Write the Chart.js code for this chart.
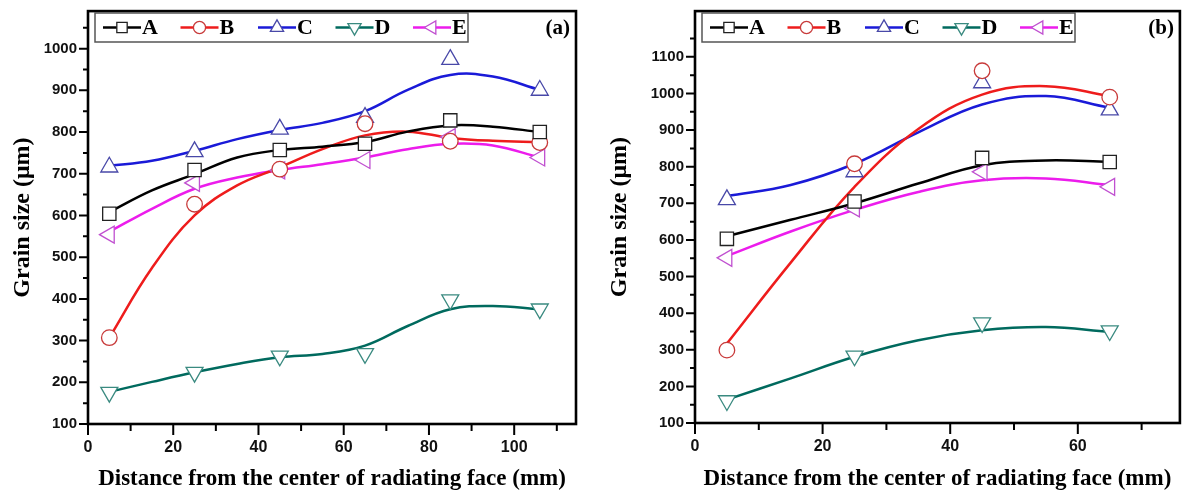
<!DOCTYPE html>
<html>
<head>
<meta charset="utf-8">
<script src="https://cdn.jsdelivr.net/npm/chart.js@4.4.1/dist/chart.umd.min.js"></script>
<style>
  body { margin: 0; background: #fff; width: 1191px; height: 493px; overflow: hidden; position: relative; }
  canvas { position: absolute; top: 0; }
  #chartA { left: 0; }
  #chartB { left: 590px; }
</style>
</head>
<body>
<canvas id="chartA" width="590" height="493"></canvas>
<canvas id="chartB" width="601" height="493"></canvas>
<script>
// series names (legend)
const seriesNames = ['A', 'B', 'C', 'D', 'E'];

// ---- panel (a): measured points ----
const panelA_x = [5, 25, 45, 65, 85, 106];
const panelA_A = [604, 709, 757, 772, 828, 800];
const panelA_B = [307, 627, 711, 820, 778, 775];
const panelA_C = [716, 753, 807, 835, 974, 900];
const panelA_D = [176, 224, 263, 269, 398, 376];
const panelA_E = [554, 678, 708, 733, 788, 739];
// panel (a): fitted curves
const panelA_fitX = [5, 15, 25, 35, 45, 55, 65, 75, 85, 95, 106];
const panelA_fitA = [608, 660, 699, 739, 757, 765, 776, 801, 816, 813, 800];
const panelA_fitB = [307, 474, 600, 672, 715, 759, 792, 801, 786, 779, 776];
const panelA_fitC = [719, 731, 755, 783, 805, 822, 850, 901, 937, 933, 901];
const panelA_fitD = [177, 201, 224, 244, 260, 268, 288, 335, 375, 383, 375];
const panelA_fitE = [561, 616, 664, 691, 709, 723, 739, 759, 772, 768, 739];
// panel (a): ticks
const panelA_xMajor = [0, 20, 40, 60, 80, 100];
const panelA_xMinor = [10, 30, 50, 70, 90, 110];
const panelA_yMajor = [100, 200, 300, 400, 500, 600, 700, 800, 900, 1000];
const panelA_yMinor = [150, 250, 350, 450, 550, 650, 750, 850, 950, 1050];

// ---- panel (b): measured points ----
const panelB_x = [5, 25, 45, 65];
const panelB_A = [603, 705, 824, 813];
const panelB_B = [299, 808, 1062, 990];
const panelB_C = [710, 786, 1029, 955];
const panelB_D = [161, 283, 374, 352];
const panelB_E = [551, 686, 786, 745];
// panel (b): fitted curves
const panelB_fitX = [5, 15, 25, 35, 45, 55, 65];
const panelB_fitA = [610, 655, 700, 754, 804, 817, 813];
const panelB_fitB = [317, 538, 745, 903, 997, 1020, 993];
const panelB_fitC = [720, 750, 808, 894, 970, 993, 961];
const panelB_fitD = [164, 222, 281, 326, 353, 362, 349];
const panelB_fitE = [556, 623, 682, 731, 763, 768, 750];
// panel (b): ticks
const panelB_xMajor = [0, 20, 40, 60];
const panelB_xMinor = [10, 30, 50, 70];
const panelB_yMajor = [100, 200, 300, 400, 500, 600, 700, 800, 900, 1000, 1100];
const panelB_yMinor = [150, 250, 350, 450, 550, 650, 750, 850, 950, 1050, 1150];

// styles
const lineColors = ['#000000', '#ee1c1c', '#1a1ad8', '#006a5e', '#ec1cec'];
const markColors = ['#222222', '#c83a3a', '#4848a8', '#3a8a80', '#c050d0'];
const markStyles = ['rect', 'circle', 'triangle', 'triangle', 'triangle'];
const markRot = [0, 0, 0, 180, -90];
const markRadius = [9.4, 7.8, 9.8, 9.8, 9.8];

const serif = '"Liberation Serif", "Times New Roman", serif';
const sans = '"Liberation Sans", Arial, sans-serif';

function buildDatasets(xs, marks, fitX, fits) {
    const sets = [];
    fits.forEach((f, i) => {
        sets.push({
            type: 'line',
            data: fitX.map((x, k) => ({x: x, y: f[k]})),
            borderColor: lineColors[i],
            borderWidth: 2.5,
            pointRadius: 0,
            tension: 0.4,
            fill: false,
            order: 1
        });
    });
    marks.forEach((m, i) => {
        sets.push({
            type: 'line',
            data: xs.map((x, k) => ({x: x, y: m[k]})),
            showLine: false,
            pointStyle: markStyles[i],
            rotation: markRot[i],
            pointRadius: markRadius[i],
            pointBorderWidth: 1.3,
            pointBorderColor: markColors[i],
            pointBackgroundColor: '#ffffff',
            order: 0
        });
    });
    return sets;
}

// frame, ticks, legend box and panel tag
const decoPlugin = {
    id: 'deco',
    afterDraw(chart, args, p) {
        const {ctx, chartArea: ca, scales: {x, y}} = chart;
        ctx.save();
        ctx.strokeStyle = '#000';
        ctx.lineWidth = 2;
        ctx.beginPath();
        p.xMajor.forEach(v => { const px = x.getPixelForValue(v); ctx.moveTo(px, ca.bottom); ctx.lineTo(px, ca.bottom + 11); });
        p.xMinor.forEach(v => { const px = x.getPixelForValue(v); ctx.moveTo(px, ca.bottom); ctx.lineTo(px, ca.bottom + 7); });
        p.yMajor.forEach(v => { const py = y.getPixelForValue(v); ctx.moveTo(ca.left, py); ctx.lineTo(ca.left - 9, py); });
        p.yMinor.forEach(v => { const py = y.getPixelForValue(v); ctx.moveTo(ca.left, py); ctx.lineTo(ca.left - 5, py); });
        ctx.stroke();
        ctx.lineWidth = 2.6;
        ctx.strokeRect(ca.left, ca.top, ca.right - ca.left, ca.bottom - ca.top);

        // legend
        ctx.lineWidth = 1.5;
        ctx.strokeStyle = '#555';
        ctx.strokeRect(ca.left + 7, 13, 373, 29);
        seriesNames.forEach((n, i) => {
            const mx = ca.left + 34 + 77.5 * i, my = 27.5;
            ctx.strokeStyle = lineColors[i];
            ctx.lineWidth = 2.5;
            ctx.beginPath();
            ctx.moveTo(mx - 19, my);
            ctx.lineTo(mx + 19, my);
            ctx.stroke();
            ctx.fillStyle = '#fff';
            ctx.strokeStyle = markColors[i];
            ctx.lineWidth = 1.3;
            Chart.helpers.drawPoint(ctx, {pointStyle: markStyles[i], rotation: markRot[i], radius: markRadius[i] * 0.78, borderWidth: 1.3}, mx, my);
            ctx.fillStyle = '#000';
            ctx.font = 'bold 22px ' + serif;
            ctx.textAlign = 'left';
            ctx.textBaseline = 'middle';
            ctx.fillText(n, mx + 20, my + 1);
        });

        ctx.font = 'bold 21px ' + serif;
        ctx.textAlign = 'right';
        ctx.fillText(p.tag, ca.right - 6, 29);
        ctx.restore();
    }
};

function makeChart(id, p) {
    const allX = p.xMajor.concat(p.xMinor).sort((a, b) => a - b);
    const allY = p.yMajor.concat(p.yMinor).sort((a, b) => a - b);
    return new Chart(document.getElementById(id), {
        type: 'line',
        data: {datasets: buildDatasets(p.xs, p.marks, p.fitX, p.fits)},
        plugins: [decoPlugin],
        options: {
            responsive: false,
            animation: false,
            layout: {padding: {top: p.top, right: p.right, left: 0, bottom: 0}},
            plugins: {
                legend: {display: false},
                tooltip: {enabled: false},
                deco: p
            },
            scales: {
                x: {
                    type: 'linear',
                    min: 0,
                    max: p.xMax,
                    afterBuildTicks: s => { s.ticks = allX.map(v => ({value: v})); },
                    afterFit: s => { s.height = p.xAxisH; },
                    grid: {display: false, drawTicks: true, tickLength: 11},
                    border: {display: false},
                    ticks: {
                        autoSkip: false,
                        maxRotation: 0,
                        padding: 3,
                        color: '#111',
                        font: {family: sans, weight: 'bold', size: 16},
                        callback: v => p.xMajor.includes(v) ? String(v) : ''
                    },
                    title: {
                        display: true,
                        text: 'Distance from the center of radiating face (mm)',
                        color: '#000',
                        font: {family: serif, weight: 'bold', size: 23},
                        padding: {top: 0, bottom: 0}
                    }
                },
                y: {
                    type: 'linear',
                    min: 100,
                    max: p.yMax,
                    afterBuildTicks: s => { s.ticks = allY.map(v => ({value: v})); },
                    afterFit: s => { s.width = p.yAxisW; },
                    grid: {display: false, drawTicks: true, tickLength: 9},
                    border: {display: false},
                    ticks: {
                        autoSkip: false,
                        padding: 2,
                        color: '#111',
                        font: {family: sans, weight: 'bold', size: 15},
                        callback: v => p.yMajor.includes(v) ? String(v) : ''
                    },
                    title: {
                        display: true,
                        text: 'Grain size (μm)',
                        color: '#000',
                        font: {family: serif, weight: 'bold', size: 24},
                        padding: {top: p.yTitlePad, bottom: 0}
                    }
                }
            }
        }
    });
}

makeChart('chartA', {
    xs: panelA_x,
    marks: [panelA_A, panelA_B, panelA_C, panelA_D, panelA_E],
    fitX: panelA_fitX,
    fits: [panelA_fitA, panelA_fitB, panelA_fitC, panelA_fitD, panelA_fitE],
    xMajor: panelA_xMajor, xMinor: panelA_xMinor,
    yMajor: panelA_yMajor, yMinor: panelA_yMinor,
    xMax: 114.5, yMax: 1090,
    top: 7, right: 14, yAxisW: 88, xAxisH: 69, yTitlePad: 8,
    tag: '(a)'
});

makeChart('chartB', {
    xs: panelB_x,
    marks: [panelB_A, panelB_B, panelB_C, panelB_D, panelB_E],
    fitX: panelB_fitX,
    fits: [panelB_fitA, panelB_fitB, panelB_fitC, panelB_fitD, panelB_fitE],
    xMajor: panelB_xMajor, xMinor: panelB_xMinor,
    yMajor: panelB_yMajor, yMinor: panelB_yMinor,
    xMax: 76, yMax: 1225,
    top: 6, right: 11, yAxisW: 105, xAxisH: 70, yTitlePad: 15,
    tag: '(b)'
});
</script>
</body>
</html>
